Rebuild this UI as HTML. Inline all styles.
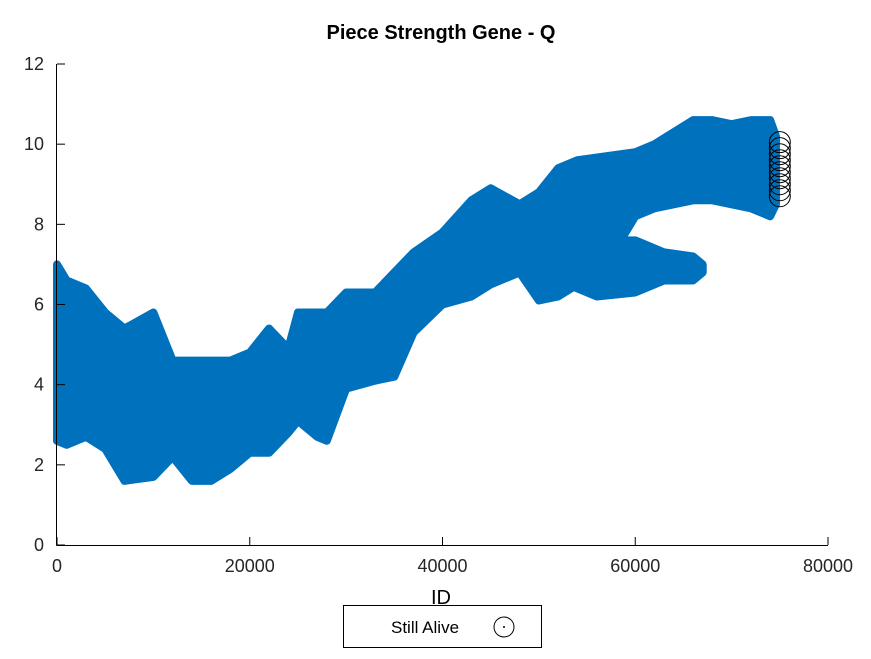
<!DOCTYPE html>
<html><head><meta charset="utf-8"><style>
body{margin:0;background:#fff;font-family:"Liberation Sans",sans-serif}
</style></head><body>
<svg id="chart" width="871" height="654" xmlns="http://www.w3.org/2000/svg">
<text x="441" y="39" text-anchor="middle" font-size="20" font-weight="bold" font-family="Liberation Sans, sans-serif">Piece Strength Gene - Q</text>
<g id="bands"></g>
<g id="alive"></g>
<g id="axes"></g>
<text x="441" y="604" text-anchor="middle" font-size="20" font-family="Liberation Sans, sans-serif">ID</text>
<g>
<rect x="343.5" y="605.5" width="198" height="42" fill="#fff" stroke="#000"/>
<text x="391" y="633" font-size="17" font-family="Liberation Sans, sans-serif">Still Alive</text>
<circle cx="504" cy="627" r="10" fill="none" stroke="#000"/>
<circle cx="504" cy="627" r="1" fill="#000"/>
</g>
</svg>
<script>
const mainX=[0,1,3,5,7,10,12,14,16,18,20,22,24,25,27,28,30,33,35,37,40,43,45,48,50,52,54,57,60,62,64,66,68,70,72,74,74.6];
const mainLow=[2.6,2.5,2.7,2.4,1.6,1.7,2.2,1.6,1.6,1.9,2.3,2.3,2.8,3.1,2.7,2.6,3.9,4.1,4.2,5.3,6.0,6.2,6.5,6.8,6.1,6.2,6.5,7.0,8.2,8.4,8.5,8.6,8.6,8.5,8.4,8.2,8.5];
const mainHigh=[7.0,6.6,6.4,5.8,5.4,5.8,4.6,4.6,4.6,4.6,4.8,5.4,4.9,5.8,5.8,5.8,6.3,6.3,6.8,7.3,7.8,8.6,8.9,8.5,8.8,9.4,9.6,9.7,9.8,10.0,10.3,10.6,10.6,10.5,10.6,10.6,10.2];
const branchX=[52,56,60,63,66,67];
const branchLow=[6.6,6.2,6.3,6.6,6.6,6.8];
const branchHigh=[7.6,7.6,7.6,7.3,7.2,7.0];
const aliveX=[75000,75000,75000,75000,75000,75000,75000,75000,75000,75000];
const aliveY=[8.7,8.85,9.0,9.15,9.3,9.45,9.6,9.75,9.9,10.05];
const xTicks=[0,20000,40000,60000,80000];
const yTicks=[0,2,4,6,8,10,12];
const NS="http://www.w3.org/2000/svg";
const X0=57,X1=828,Y0=545,Y1=64;
const sx=v=>X0+(v/80000)*(X1-X0);
const sy=v=>Y0-(v/12)*(Y0-Y1);
function band(xs,lo,hi,name){
  let pts=xs.map((x,i)=>sx(x*1000)+","+sy(hi[i]));
  for(let i=xs.length-1;i>=0;i--)pts.push(sx(xs[i]*1000)+","+sy(lo[i]));
  const p=document.createElementNS(NS,"polygon");
  p.setAttribute("points",pts.join(" "));
  p.setAttribute("fill","#0072bd");p.setAttribute("stroke","#0072bd");
  p.setAttribute("stroke-width","8");p.setAttribute("stroke-linejoin","round");
  
  
  document.getElementById("bands").appendChild(p);
}
band(mainX,mainLow,mainHigh,"main-band");
band(branchX,branchLow,branchHigh,"lower-branch-band");
aliveX.forEach((x,i)=>{
  const c=document.createElementNS(NS,"circle");
  c.setAttribute("cx",sx(x));c.setAttribute("cy",sy(aliveY[i]));c.setAttribute("r","10.5");
  c.setAttribute("fill","none");c.setAttribute("stroke","#000");
  
  
  document.getElementById("alive").appendChild(c);
});
const ax=document.getElementById("axes");
function line(x1,y1,x2,y2,name){
  const l=document.createElementNS(NS,"line");
  l.setAttribute("x1",x1);l.setAttribute("y1",y1);l.setAttribute("x2",x2);l.setAttribute("y2",y2);
  l.setAttribute("stroke","#000");l.setAttribute("stroke-width","1");
  
  
  ax.appendChild(l);
}
function text(x,y,s,anchor,name){
  const t=document.createElementNS(NS,"text");
  t.setAttribute("x",x);t.setAttribute("y",y);t.setAttribute("text-anchor",anchor);
  t.setAttribute("font-size","18");t.setAttribute("font-family","Liberation Sans, sans-serif");
  t.setAttribute("fill","#262626");t.textContent=s;
  
  
  ax.appendChild(t);
}
line(X0-0.5,Y0+0.5,X1,Y0+0.5,"x-axis");
line(X0-0.5,Y1,X0-0.5,Y0+0.5,"y-axis");
xTicks.forEach(v=>{line(sx(v),Y0,sx(v),Y0-8,"x-tick");text(sx(v),Y0+27,String(v),"middle","x-tick-label");});
yTicks.forEach(v=>{line(X0,sy(v),X0+8,sy(v),"y-tick");text(X0-13,sy(v)+6,String(v),"end","y-tick-label");});
</script>
</body></html>
